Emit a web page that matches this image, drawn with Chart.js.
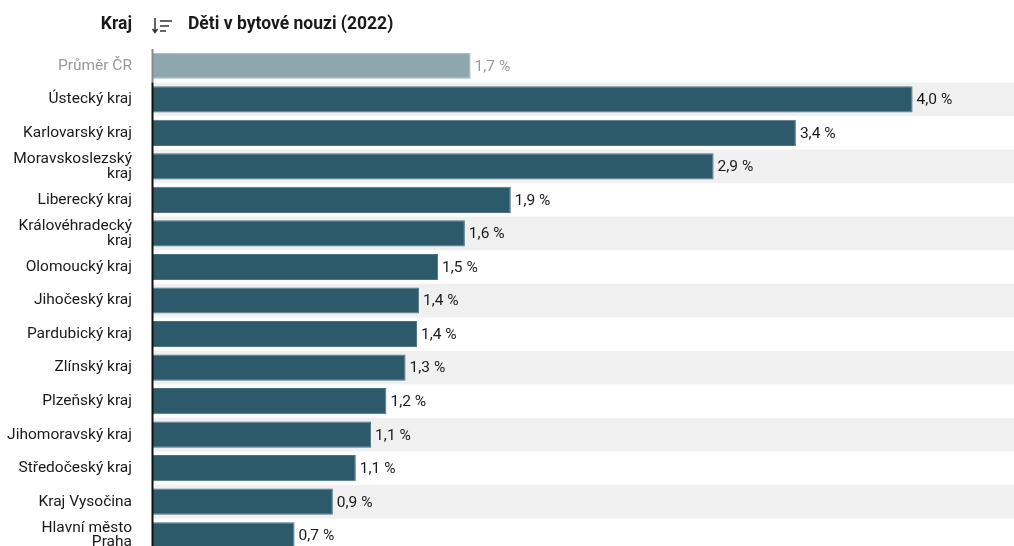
<!DOCTYPE html>
<html>
<head>
<meta charset="utf-8">
<script src="https://cdn.jsdelivr.net/npm/chart.js@4"></script>
<style>
  body { margin: 0; overflow: hidden; background: #fff; font-family: Roboto, "Noto Sans", sans-serif; }
  #wrap { position: relative; width: 1014px; height: 560px; }
  .head { position: absolute; top: 13px; font-weight: bold; font-size: 17.5px; color: #1a1a1a; }
  #kraj { right: calc(1014px - 132px); }
  #title { left: 188px; }
  #icon { position: absolute; left: 151px; top: 16px; }
</style>
</head>
<body>
<div id="wrap">
  <canvas id="chart" width="1014" height="560"></canvas>
  <div class="head" id="kraj">Kraj</div>
  <svg id="icon" width="24" height="20" viewBox="0 0 24 20">
    <path d="M4 2 V16 M1.5 13 L4 16.5 L6.5 13" stroke="#333" stroke-width="1.5" fill="none"/>
    <path d="M9 5 H21 M9 10 H18 M9 15 H15" stroke="#333" stroke-width="1.5" fill="none"/>
  </svg>
  <div class="head" id="title">Děti v bytové nouzi (2022)</div>
</div>
<script>
// regions, average first
const regions = [
  'Průměr ČR', 'Ústecký kraj', 'Karlovarský kraj', ['Moravskoslezský', 'kraj'],
  'Liberecký kraj', ['Královéhradecký', 'kraj'], 'Olomoucký kraj', 'Jihočeský kraj',
  'Pardubický kraj', 'Zlínský kraj', 'Plzeňský kraj', 'Jihomoravský kraj',
  'Středočeský kraj', 'Kraj Vysočina', ['Hlavní město', 'Praha']
];
// share of children in housing need, %
const shares = [1.66, 3.97, 3.36, 2.93, 1.87, 1.63, 1.49, 1.39, 1.38, 1.32, 1.22, 1.14, 1.06, 0.94, 0.74];

const barColor = '#2c5a6a';
const avgColor = '#8ea6ae';
const fontFam = 'Roboto, "Noto Sans", sans-serif';

const rowsPlugin = {
  id: 'rows',
  beforeDatasetsDraw(chart) {
    const { ctx, chartArea } = chart;
    const y = chart.scales.y;
    const step = (chartArea.bottom - chartArea.top) / regions.length;
    ctx.save();
    ctx.fillStyle = '#f0f0f0';
    regions.forEach((r, i) => {
      if (i % 2 === 1) {
        const cy = y.getPixelForValue(i);
        ctx.fillRect(chartArea.left, cy - step / 2, chartArea.right - chartArea.left, step);
      }
    });
    ctx.restore();
  },
  afterDatasetsDraw(chart) {
    const { ctx, chartArea } = chart;
    const meta = chart.getDatasetMeta(0);
    const step = (chartArea.bottom - chartArea.top) / regions.length;
    ctx.save();
    ctx.font = '15.5px ' + fontFam;
    ctx.textBaseline = 'middle';
    meta.data.forEach((bar, i) => {
      ctx.fillStyle = i === 0 ? '#999' : '#1a1a1a';
      const txt = shares[i].toFixed(1).replace('.', ',') + ' %';
      ctx.fillText(txt, bar.x + 4, bar.y + 1);
    });
    // axis line
    const x = chartArea.left - 0.5;
    ctx.lineWidth = 2;
    ctx.strokeStyle = '#888';
    ctx.beginPath();
    ctx.moveTo(x, chartArea.top);
    ctx.lineTo(x, chartArea.top + step);
    ctx.stroke();
    ctx.strokeStyle = '#111';
    ctx.beginPath();
    ctx.moveTo(x, chartArea.top + step);
    ctx.lineTo(x, chartArea.bottom);
    ctx.stroke();
    ctx.restore();
  }
};

new Chart(document.getElementById('chart'), {
  type: 'bar',
  data: {
    labels: regions,
    datasets: [{
      data: shares,
      backgroundColor: shares.map((v, i) => i === 0 ? avgColor : barColor),
      borderColor: shares.map((v, i) => i === 0 ? '#a3b8be' : '#4a7483'),
      borderWidth: 1,
      borderSkipped: 'left',
      barPercentage: 0.78,
      categoryPercentage: 1
    }]
  },
  options: {
    indexAxis: 'y',
    responsive: false,
    animation: false,
    layout: { padding: { top: 49, bottom: 8, left: 0, right: 0 } },
    plugins: { legend: { display: false }, tooltip: { enabled: false } },
    scales: {
      x: { display: false, min: 0, max: 4.5 },
      y: {
        afterFit: s => { s.width = 153; s.paddingTop = 0; s.paddingBottom = 0; },
        grid: { display: false, drawTicks: false },
        border: { display: false },
        ticks: {
          padding: 21,
          font: { size: 15.5, family: fontFam, lineHeight: 0.95 },
          color: c => c.index === 0 ? '#999' : '#1a1a1a'
        }
      }
    }
  },
  plugins: [rowsPlugin]
});
</script>
</body>
</html>
